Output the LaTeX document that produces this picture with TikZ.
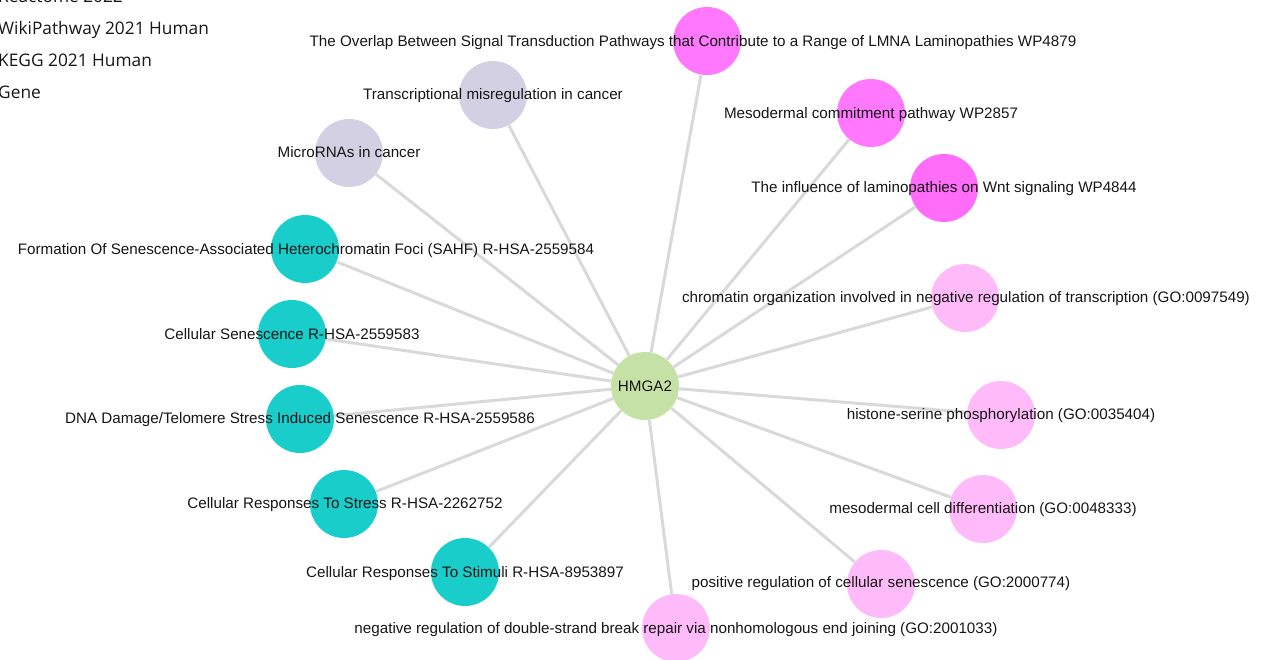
\documentclass[tikz,border=0pt]{standalone}
\usepackage{fontspec}
\setmainfont{Liberation Sans}
\newfontfamily\legendfont{Open Sans}
\definecolor{genec}{HTML}{C5E1A5}
\definecolor{keggc}{HTML}{D4D0E4}
\definecolor{reactc}{HTML}{19CDCB}
\definecolor{wikic}{HTML}{FF78FD}
\definecolor{wikid}{HTML}{FF6CF8}
\definecolor{goc}{HTML}{FFBBF9}
\definecolor{edgec}{HTML}{D9D9D9}
\definecolor{txtc}{HTML}{161616}
\tikzset{
  bub/.style={circle, minimum size=68pt, inner sep=0pt, draw=none},
  lab/.style={anchor=base, inner sep=0pt, text=txtc, font=\fontsize{15.2}{18}\selectfont},
  leg/.style={anchor=base west, inner sep=0pt, text=txtc, font=\legendfont\fontsize{17.3}{21}\selectfont},
  edge/.style={draw=edgec, line width=3pt}
}
\begin{document}
\begin{tikzpicture}[x=1pt,y=-1pt]
\useasboundingbox (0,0) rectangle (1268,660);
% nodes
\node[bub, fill=genec] (g) at (645,386) {};
\node[bub, fill=wikic] (w1) at (707,41) {};
\node[bub, fill=wikic] (w2) at (871,113) {};
\node[bub, fill=wikid] (w3) at (944,188) {};
\node[bub, fill=keggc] (k1) at (493,95) {};
\node[bub, fill=keggc] (k2) at (349,153) {};
\node[bub, fill=reactc] (r1) at (305,249) {};
\node[bub, fill=reactc] (r2) at (292,334) {};
\node[bub, fill=reactc] (r3) at (300,419) {};
\node[bub, fill=reactc] (r4) at (344,504) {};
\node[bub, fill=reactc] (r5) at (465,572) {};
\node[bub, fill=goc] (o1) at (965,298) {};
\node[bub, fill=goc] (o2) at (1001,415) {};
\node[bub, fill=goc] (o3) at (983,509) {};
\node[bub, fill=goc] (o4) at (881,584) {};
\node[bub, fill=goc] (o5) at (676,628) {};
% edges
\foreach \t in {w1,w2,w3,k1,k2,r1,r2,r3,r4,r5,o1,o2,o3,o4,o5}
  \draw[edge] (g) -- (\t);
% labels
\node[lab] (gl) at (645,391.4) {HMGA2};
\node[lab] (w1l) at (693,46.4) {The Overlap Between Signal Transduction Pathways that Contribute to a Range of LMNA Laminopathies WP4879};
\node[lab] (w2l) at (871,118.4) {Mesodermal commitment pathway WP2857};
\node[lab] (w3l) at (944,192.4) {The influence of laminopathies on Wnt signaling WP4844};
\node[lab] (k1l) at (493,99.4) {Transcriptional misregulation in cancer};
\node[lab] (k2l) at (349,157.4) {MicroRNAs in cancer};
\node[lab] (r1l) at (306,254.4) {Formation Of Senescence-Associated Heterochromatin Foci (SAHF) R-HSA-2559584};
\node[lab] (r2l) at (292,339.4) {Cellular Senescence R-HSA-2559583};
\node[lab] (r3l) at (300,423.4) {DNA Damage/Telomere Stress Induced Senescence R-HSA-2559586};
\node[lab] (r4l) at (345,508.4) {Cellular Responses To Stress R-HSA-2262752};
\node[lab] (r5l) at (465,577.4) {Cellular Responses To Stimuli R-HSA-8953897};
\node[lab] (o1l) at (966,302.4) {chromatin organization involved in negative regulation of transcription (GO:0097549)};
\node[lab] (o2l) at (1001,419.4) {histone-serine phosphorylation (GO:0035404)};
\node[lab] (o3l) at (983,513.4) {mesodermal cell differentiation (GO:0048333)};
\node[lab] (o4l) at (881,587.4) {positive regulation of cellular senescence (GO:2000774)};
\node[lab] (o5l) at (676,633.4) {negative regulation of double-strand break repair via nonhomologous end joining (GO:2001033)};
% legend
\node[leg] (l1) at (-2,3) {Reactome 2022};
\node[leg] (l2) at (-2,35) {WikiPathway 2021 Human};
\node[leg] (l3) at (-2,67) {KEGG 2021 Human};
\node[leg] (l4) at (-2,99) {Gene};
\end{tikzpicture}
\end{document}
